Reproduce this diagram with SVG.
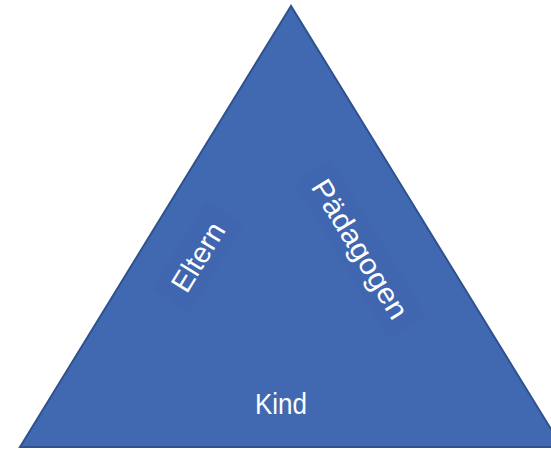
<svg xmlns="http://www.w3.org/2000/svg" width="551" height="449" viewBox="0 0 551 449">
<style>
.lbl{font-family:"Liberation Sans",Arial,sans-serif;font-size:29px;fill:#ffffff;text-anchor:middle}
.shd{fill:#1f3a6e;fill-opacity:0.05}
</style>
<rect width="551" height="449" fill="#ffffff"/>
<g id="triangle">
<polygon points="291,6 20,447 562,447" fill="#4169B2" stroke="#2F528F" stroke-width="2" stroke-linejoin="miter"/>
</g>
<g id="eltern" transform="translate(198,257) rotate(-58.5)">
<rect class="shd" x="-52" y="-22" width="104" height="44" rx="4"/>
<text class="lbl" x="0" y="10">Eltern</text>
</g>
<g id="paedagogen" transform="translate(360,249) rotate(58.5)">
<rect class="shd" x="-92" y="-22" width="184" height="44" rx="4"/>
<text class="lbl" x="0" y="10" textLength="158" lengthAdjust="spacingAndGlyphs" font-size="31">Pädagogen</text>
</g>
<g id="kind">
<text class="lbl" x="281" y="414" textLength="52" lengthAdjust="spacingAndGlyphs" font-size="32">Kind</text>
</g>
<g id="connectors"/>
</svg>
